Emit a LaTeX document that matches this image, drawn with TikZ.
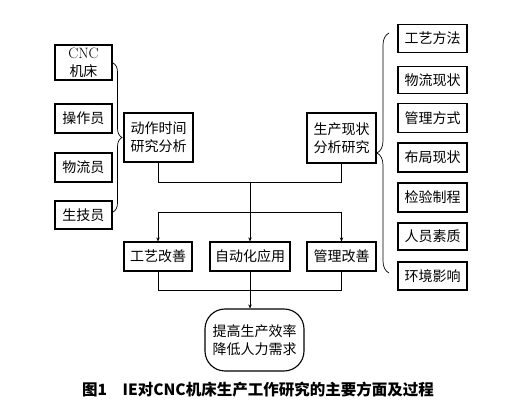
\documentclass[tikz,border=0pt]{standalone}
\usepackage{fontspec}
\newfontfamily\cjk{Noto Sans CJK SC}
\usetikzlibrary{arrows.meta,decorations.pathreplacing}

\begin{document}
\begin{tikzpicture}[x=1pt, y=-1pt,
  box/.style={draw, line width=1.1pt, align=center, inner sep=1pt, font=\cjk\fontsize{14}{18}\selectfont},
  link/.style={line width=0.7pt},
  arr/.style={link, -{Stealth[length=4pt, width=3.5pt]}},
  brc/.style={line width=0.7pt, decorate, decoration={brace, amplitude=9pt}}]
\useasboundingbox (0,0) rectangle (507,417);

% left side
\node[box, minimum width=57pt, minimum height=35pt] (cnc) at (83.5,62.5) {{\rmfamily\fontsize{15}{16}\selectfont CNC}\\机床};
\node[box, minimum width=57pt, minimum height=29pt] (czy) at (83.5,118.5) {操作员};
\node[box, minimum width=57pt, minimum height=29pt] (wly) at (83.5,167.5) {物流员};
\node[box, minimum width=57pt, minimum height=28pt] (sjy) at (83.5,215) {生技员};
\node[box, minimum width=69pt, minimum height=49pt] (dzsj) at (158.5,137.5) {动作时间\\研究分析};

% right side
\node[box, minimum width=69pt, minimum height=50pt] (sczk) at (341.5,138) {生产现状\\分析研究};
\node[box, minimum width=69pt, minimum height=28pt] (r1) at (432.5,38.5) {工艺方法};
\node[box, minimum width=69pt, minimum height=27pt] (r2) at (432.5,80) {物流现状};
\node[box, minimum width=69pt, minimum height=29pt] (r3) at (432.5,118) {管理方式};
\node[box, minimum width=69pt, minimum height=29pt] (r4) at (432.5,157.5) {布局现状};
\node[box, minimum width=69pt, minimum height=29pt] (r5) at (432.5,197.5) {检验制程};
\node[box, minimum width=69pt, minimum height=27pt] (r6) at (432.5,236.5) {人员素质};
\node[box, minimum width=69pt, minimum height=28pt] (r7) at (432.5,276) {环境影响};

% improvements
\node[box, minimum width=68pt, minimum height=29pt] (gygs) at (158,256.5) {工艺改善};
\node[box, minimum width=80pt, minimum height=29pt] (zdh) at (250,256.5) {自动化应用};
\node[box, minimum width=69pt, minimum height=29pt] (glgs) at (341.5,256.5) {管理改善};
\node[box, rounded corners=20pt, minimum width=99pt, minimum height=62pt] (goal) at (254.5,340) {提高生产效率\\降低人力需求};

\node[font=\cjk\bfseries\fontsize{15.5}{18}\selectfont] (cap) at (258,390) {图1\quad IE对CNC机床生产工作研究的主要方面及过程};

% braces
\coordinate (lb1) at (113,63);
\coordinate (lb2) at (113,212);
\draw[brc] (lb1) -- (lb2);
\coordinate (rb1) at (389,273);
\coordinate (rb2) at (389,33);
\draw[brc, decoration={amplitude=12pt}] (rb1) -- (rb2);

% connectors
\coordinate (j1) at (250,182);
\coordinate (j2) at (250,212);
\draw[link] (dzsj.south) |- (j1);
\draw[link] (sczk.south) |- (j1);
\draw[arr] (j1) -- (zdh.north);
\draw[arr] (j2) -| (gygs.north);
\draw[arr] (j2) -| (glgs.north);
\draw[link] (gygs.south) -- ++(0,19) -| (glgs.south);
\draw[arr] (zdh.south) -- (zdh.south |- goal.north);
\end{tikzpicture}
\end{document}
